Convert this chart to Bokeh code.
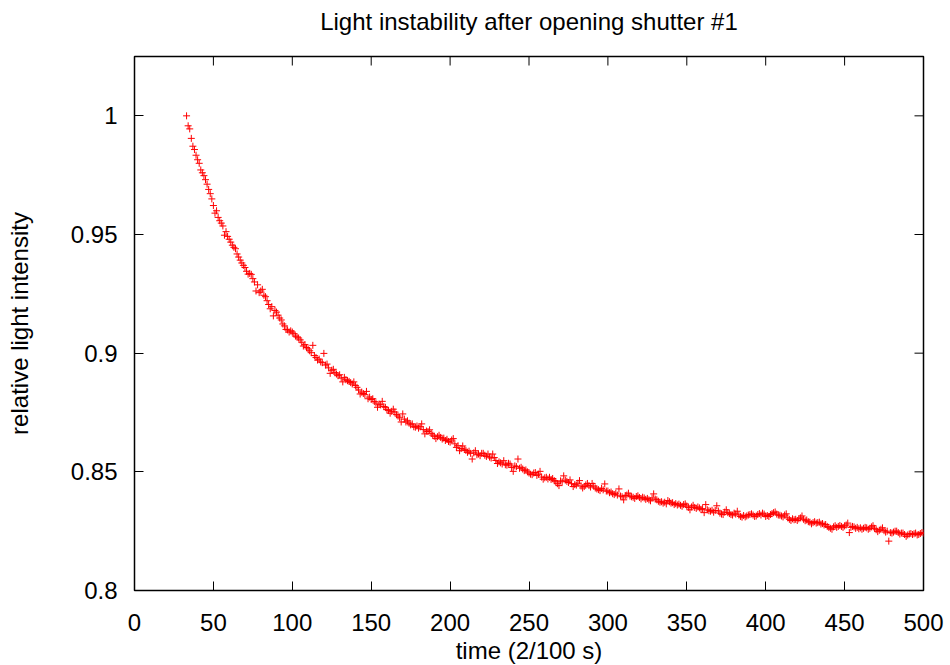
from math import pi
from bokeh.plotting import figure
from bokeh.models import ColumnDataSource, Range1d, LinearAxis, FixedTicker
from bokeh.embed import file_html
from bokeh.resources import INLINE

# ---- data (time in units of 2/100 s, relative intensity) ----
start_a = 33
intensity_a = [
    1.0000, 0.9958, 0.9945, 0.9905, 0.9872, 0.9858, 0.9834,
    0.9815, 0.9800, 0.9772, 0.9760, 0.9748, 0.9731, 0.9712, 0.9690, 0.9672, 0.9650,
    0.9622, 0.9590, 0.9600, 0.9572, 0.9558, 0.9548, 0.9536, 0.9497, 0.9512, 0.9492,
    0.9480, 0.9468, 0.9455, 0.9446, 0.9440, 0.9418, 0.9405, 0.9392, 0.9380, 0.9370,
    0.9361, 0.9345, 0.9333, 0.9336, 0.9332, 0.9314, 0.9300, 0.9262, 0.9288, 0.9255,
    0.9262, 0.9269, 0.9244, 0.9238, 0.9221, 0.9205, 0.9187, 0.9196, 0.9157, 0.9180,
    0.9173, 0.9160, 0.9148, 0.9140, 0.9123, 0.9115, 0.9100, 0.9098, 0.9089, 0.9094,
]
start_b = 100
intensity_b = [
    0.9089, 0.9082, 0.9072, 0.9068, 0.9064, 0.9056, 0.9046, 0.9030, 0.9036, 0.9024,
    0.9018, 0.9010, 0.9002, 0.9033, 0.8990, 0.8982, 0.8971, 0.8975, 0.8963, 0.8960,
    0.8999, 0.8950, 0.8954, 0.8938, 0.8915, 0.8928, 0.8932, 0.8918, 0.8912, 0.8905,
    0.8909, 0.8895, 0.8879, 0.8898, 0.8888, 0.8884, 0.8881, 0.8876, 0.8870, 0.8879,
    0.8864, 0.8856, 0.8845, 0.8828, 0.8836, 0.8830, 0.8825, 0.8839, 0.8808, 0.8815,
    0.8805, 0.8808, 0.8796, 0.8790, 0.8772, 0.8785, 0.8782, 0.8797, 0.8775, 0.8772,
    0.8762, 0.8758, 0.8747, 0.8755, 0.8764, 0.8752, 0.8741, 0.8735, 0.8728, 0.8710,
    0.8744, 0.8722, 0.8710, 0.8715, 0.8705, 0.8698, 0.8702, 0.8690, 0.8688, 0.8693,
    0.8684, 0.8690, 0.8702, 0.8678, 0.8660, 0.8672, 0.8670, 0.8677, 0.8662, 0.8655,
    0.8650, 0.8640, 0.8648, 0.8654, 0.8645, 0.8638, 0.8642, 0.8632, 0.8637, 0.8628,
]
start_c = 200
intensity_c = [
    0.8625, 0.8634, 0.8640, 0.8618, 0.8603, 0.8610, 0.8589, 0.8598, 0.8609, 0.8595,
    0.8590, 0.8582, 0.8587, 0.8578, 0.8554, 0.8580, 0.8589, 0.8572, 0.8575, 0.8568,
    0.8578, 0.8578, 0.8570, 0.8565, 0.8575, 0.8562, 0.8558, 0.8575, 0.8560, 0.8548,
    0.8535, 0.8542, 0.8538, 0.8533, 0.8547, 0.8530, 0.8528, 0.8536, 0.8533, 0.8518,
    0.8502, 0.8525, 0.8522, 0.8554, 0.8515, 0.8519, 0.8512, 0.8505, 0.8508, 0.8500,
    0.8495, 0.8490, 0.8488, 0.8495, 0.8497, 0.8485, 0.8490, 0.8502, 0.8478, 0.8469,
    0.8475, 0.8477, 0.8470, 0.8477, 0.8468, 0.8472, 0.8463, 0.8458, 0.8450, 0.8442,
    0.8462, 0.8458, 0.8483, 0.8465, 0.8460, 0.8455, 0.8466, 0.8450, 0.8438, 0.8446,
    0.8444, 0.8452, 0.8463, 0.8440, 0.8432, 0.8438, 0.8445, 0.8451, 0.8442, 0.8436,
    0.8451, 0.8440, 0.8432, 0.8428, 0.8425, 0.8421, 0.8430, 0.8424, 0.8449, 0.8419,
]
start_d = 300
intensity_d = [
    0.8419, 0.8412, 0.8415, 0.8408, 0.8404, 0.8410, 0.8402, 0.8428, 0.8398, 0.8395,
    0.8382, 0.8400, 0.8402, 0.8410, 0.8398, 0.8395, 0.8393, 0.8388, 0.8396, 0.8399,
    0.8392, 0.8386, 0.8393, 0.8390, 0.8384, 0.8388, 0.8382, 0.8378, 0.8390, 0.8407,
    0.8385, 0.8382, 0.8376, 0.8372, 0.8374, 0.8368, 0.8372, 0.8365, 0.8379, 0.8374,
    0.8368, 0.8370, 0.8362, 0.8366, 0.8360, 0.8364, 0.8359, 0.8355, 0.8362, 0.8365,
    0.8356, 0.8350, 0.8340, 0.8352, 0.8359, 0.8350, 0.8346, 0.8352, 0.8348, 0.8342,
    0.8345, 0.8328, 0.8362, 0.8340, 0.8336, 0.8334, 0.8338, 0.8330, 0.8337, 0.8357,
    0.8335, 0.8326, 0.8322, 0.8320, 0.8330, 0.8340, 0.8328, 0.8324, 0.8320, 0.8318,
    0.8326, 0.8322, 0.8334, 0.8318, 0.8312, 0.8309, 0.8316, 0.8310, 0.8314, 0.8318,
    0.8320, 0.8323, 0.8318, 0.8312, 0.8314, 0.8320, 0.8324, 0.8318, 0.8326, 0.8322,
]
start_e = 400
intensity_e = [
    0.8312, 0.8316, 0.8312, 0.8320, 0.8324, 0.8328, 0.8331, 0.8322, 0.8318, 0.8317,
    0.8314, 0.8310, 0.8318, 0.8323, 0.8306, 0.8300, 0.8295, 0.8302, 0.8298, 0.8300,
    0.8295, 0.8302, 0.8306, 0.8314, 0.8300, 0.8294, 0.8297, 0.8290, 0.8288, 0.8281,
    0.8286, 0.8290, 0.8284, 0.8286, 0.8288, 0.8280, 0.8282, 0.8276, 0.8278, 0.8270,
    0.8266, 0.8262, 0.8258, 0.8268, 0.8273, 0.8266, 0.8270, 0.8274, 0.8270, 0.8266,
    0.8272, 0.8276, 0.8284, 0.8244, 0.8266, 0.8270, 0.8268, 0.8262, 0.8266, 0.8260,
    0.8264, 0.8258, 0.8262, 0.8266, 0.8264, 0.8258, 0.8262, 0.8268, 0.8273, 0.8262,
    0.8256, 0.8248, 0.8254, 0.8258, 0.8264, 0.8252, 0.8246, 0.8250, 0.8208, 0.8244,
    0.8242, 0.8246, 0.8250, 0.8250, 0.8244, 0.8238, 0.8242, 0.8242, 0.8236, 0.8228,
    0.8234, 0.8238, 0.8240, 0.8236, 0.8239, 0.8242, 0.8234, 0.8236, 0.8240, 0.8244,
    0.8242,
]

x_ticks = [0, 50, 100, 150, 200, 250, 300, 350, 400, 450, 500]
y_ticks = [0.8, 0.85, 0.9, 0.95, 1.0]
y_tick_labels = ["0.8", "0.85", "0.9", "0.95", "1"]

title_text = "Light instability after opening shutter #1"
x_label_text = "time (2/100 s)"
y_label_text = "relative light intensity"

X_MIN, X_MAX = 0, 500
Y_MIN, Y_MAX = 0.8, 1.025

segments = [(start_a, intensity_a), (start_b, intensity_b), (start_c, intensity_c),
            (start_d, intensity_d), (start_e, intensity_e)]
time = []
intensity = []
for s, vals in segments:
    time.extend(range(s, s + len(vals)))
    intensity.extend(vals)

source = ColumnDataSource(data=dict(time=time, intensity=intensity))

FONT = "Liberation Sans"
FS = "24px"

p = figure(width=945, height=665, output_backend="svg", toolbar_location=None,
           x_range=Range1d(X_MIN, X_MAX), y_range=Range1d(Y_MIN, Y_MAX),
           frame_width=789, frame_height=534,
           min_border_left=134, min_border_right=22, min_border_top=56, min_border_bottom=75,
           x_axis_location=None, y_axis_location=None)
p.outline_line_color = "black"
p.outline_line_width = 1.5
p.xgrid.visible = False
p.ygrid.visible = False
p.background_fill_color = "white"
p.border_fill_color = "white"


def style_axis(ax, ticks):
    ax.ticker = FixedTicker(ticks=ticks)
    ax.major_tick_in = 9
    ax.major_tick_out = 0
    ax.minor_tick_in = 0
    ax.minor_tick_out = 0
    ax.major_tick_line_color = "black"
    ax.major_tick_line_width = 1
    ax.axis_line_color = None
    ax.major_label_text_font = FONT
    ax.major_label_text_color = "black"
    ax.major_label_text_font_size = FS
    ax.axis_label_text_font = FONT
    ax.axis_label_text_font_size = FS
    ax.axis_label_text_font_style = "normal"
    ax.axis_label_text_color = "black"


# title carried by an above axis without ticks
top = LinearAxis(axis_label=title_text)
style_axis(top, [])
top.axis_label_standoff = 22
p.add_layout(top, "above")

bottom = LinearAxis(axis_label=x_label_text)
style_axis(bottom, x_ticks)
bottom.major_label_standoff = 23
bottom.axis_label_standoff = 3
bottom.major_label_text_line_height = 0.8
bottom.axis_label_text_line_height = 0.8
p.add_layout(bottom, "below")

left = LinearAxis(axis_label=y_label_text)
style_axis(left, y_ticks)
left.major_label_standoff = 17
left.major_label_overrides = {t: l for t, l in zip(y_ticks, y_tick_labels)}
left.axis_label_standoff = 35
p.add_layout(left, "left")

# mirrored ticks on the top and right edges (gnuplot style)
p.ray(x=x_ticks, y=[Y_MAX] * len(x_ticks), length=9, length_units="screen",
      angle=-pi / 2, line_color="black", line_width=1)
p.ray(x=[X_MAX] * len(y_ticks), y=y_ticks, length=9, length_units="screen",
      angle=pi, line_color="black", line_width=1)

p.scatter(x="time", y="intensity", source=source, marker="cross", size=7,
          line_color="#ff0000", line_width=1)

open("out.html", "w").write(file_html(p, INLINE))
